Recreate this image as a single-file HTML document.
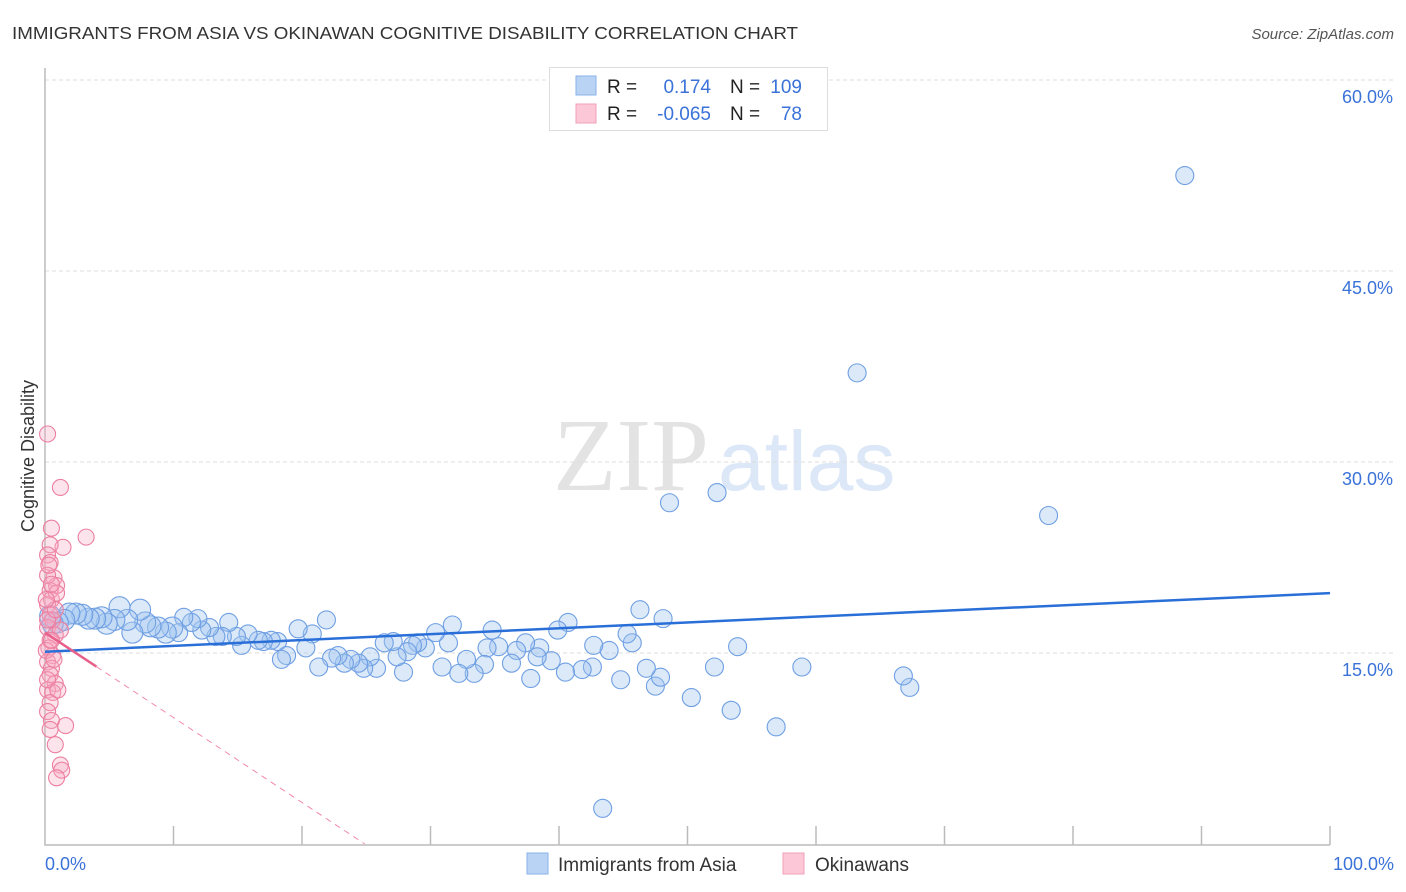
<!DOCTYPE html>
<html><head><meta charset="utf-8"><style>
body{margin:0;background:#fff;font-family:"Liberation Sans",sans-serif;}
svg{display:block}
</style></head><body>
<svg id="chart" width="1406" height="892">
<text x="12" y="39" font-size="17.5" fill="#333" textLength="786" lengthAdjust="spacingAndGlyphs">IMMIGRANTS FROM ASIA VS OKINAWAN COGNITIVE DISABILITY CORRELATION CHART</text>
<text x="1394" y="39" font-size="15" fill="#555" font-style="italic" text-anchor="end">Source: ZipAtlas.com</text>
<text x="553" y="490" font-size="104" fill="#e3e3e3" font-family="Liberation Serif,serif">ZIP</text>
<text x="718" y="490" font-size="84" fill="#dce8f8">atlas</text>
<text transform="translate(34,456) rotate(-90)" font-size="18" fill="#333" text-anchor="middle">Cognitive Disability</text>
<g id="grid"></g><g id="ticks"></g><g id="pts"></g><g id="trends"></g>
<g>
<rect x="549.5" y="67.5" width="278" height="63" fill="#fff" stroke="#ddd"/>
<rect x="576" y="76" width="20" height="19" fill="#b9d3f5" stroke="#8ab2ea"/>
<rect x="576" y="104" width="20" height="19" fill="#fcc7d6" stroke="#f2a0b8"/>
<text x="607" y="93" font-size="19" fill="#222">R =</text><text x="711" y="93" font-size="19" fill="#3a72d8" text-anchor="end">0.174</text>
<text x="730" y="93" font-size="19" fill="#222">N =</text><text x="802" y="93" font-size="19" fill="#3a72d8" text-anchor="end">109</text>
<text x="607" y="120" font-size="19" fill="#222">R =</text><text x="711" y="120" font-size="19" fill="#3a72d8" text-anchor="end">-0.065</text>
<text x="730" y="120" font-size="19" fill="#222">N =</text><text x="802" y="120" font-size="19" fill="#3a72d8" text-anchor="end">78</text>
</g>
<g>
<rect x="527" y="853" width="21" height="21" fill="#b9d3f5" stroke="#8ab2ea"/>
<text x="558" y="871" font-size="19" fill="#333">Immigrants from Asia</text>
<rect x="783" y="853" width="21" height="21" fill="#fcc7d6" stroke="#f2a0b8"/>
<text x="815" y="871" font-size="19" fill="#333">Okinawans</text>
</g>
<text x="45" y="870" font-size="18" fill="#3a72d8">0.0%</text>
<text x="1394" y="870" font-size="18" fill="#3a72d8" text-anchor="end">100.0%</text>
</svg>
<script>
const yTicks=[15,30,45,60];
const yTickLabels=["15.0%","30.0%","45.0%","60.0%"];
const asiaX=[88.7,63.2,52.3,48.6,78.1,43.4,56.9,53.4,50.3,67.3,66.8,58.9,52.1,53.9,46.3,48.1,40.7,39.9,45.7,45.3,43.9,42.7,44.8,47.5,47.9,46.8,42.6,41.8,40.5,39.4,38.5,37.8,38.3,37.4,36.7,36.3,34.8,35.3,34.4,34.2,33.4,32.8,32.2,31.7,31.4,30.9,30.4,29.6,29.0,28.6,28.2,27.9,27.4,27.1,26.4,25.8,25.3,24.8,24.4,23.8,23.3,22.8,22.3,21.9,21.3,20.8,20.3,19.7,18.8,18.4,18.1,17.6,17.0,16.6,15.8,15.3,14.9,14.3,13.8,13.3,12.8,12.2,11.9,11.4,10.8,10.4,9.9,9.4,8.8,8.2,7.8,7.4,6.8,6.4,5.8,5.4,4.8,4.4,3.9,3.4,2.9,2.4,1.9,1.5,1.0,0.6,0.4];
const asiaY=[52.5,37.0,27.6,26.8,25.8,2.8,9.2,10.5,11.5,12.3,13.2,13.9,13.9,15.5,18.4,17.7,17.4,16.8,15.8,16.5,15.2,15.6,12.9,12.4,13.1,13.8,13.9,13.7,13.5,14.4,15.4,13.0,14.7,15.8,15.2,14.2,16.8,15.5,15.4,14.1,13.4,14.5,13.4,17.2,15.8,13.9,16.6,15.4,15.8,15.6,15.1,13.5,14.7,15.9,15.8,13.8,14.7,13.8,14.2,14.5,14.2,14.8,14.6,17.6,13.9,16.5,15.4,16.9,14.8,14.5,15.9,16.0,15.9,16.0,16.5,15.6,16.3,17.4,16.3,16.3,17.0,16.8,17.7,17.4,17.8,16.6,17.0,16.6,17.0,17.1,17.4,18.4,16.6,17.6,18.6,17.6,17.3,17.8,17.7,17.7,18.0,18.1,18.1,17.6,17.4,17.3,17.9];
const okiX=[0.2,1.2,3.2,1.4,0.5,0.4,0.2,0.4,0.7,0.9,0.4,0.5,0.9,0.2,0.4,0.6,0.2,0.8,0.4,0.3,0.6,0.2,0.5,0.4,0.8,0.2,0.6,0.4,0.2,0.5,1.6,0.4,0.8,1.2,1.3,0.9,0.2,0.2,0.1,0.2,1.0,0.5,0.8,1.2,0.1,0.3,0.5,0.7];
const okiY=[32.2,28.0,24.1,23.3,24.8,23.5,22.7,22.1,20.9,20.3,19.9,19.2,19.7,18.8,18.0,17.6,17.0,16.4,16.0,15.4,14.8,14.3,13.8,13.3,12.6,12.1,11.9,11.1,10.4,9.7,9.3,9.0,7.8,6.2,5.8,5.2,21.1,17.6,15.2,12.9,12.1,20.4,18.4,16.8,19.2,21.9,16.0,14.5];
const asiaTrend=[15.1,19.7];
const okiTrend=[16.6,-0.667];
const NS="http://www.w3.org/2000/svg";
const X=v=>45+v*12.85, Y=v=>844-v*12.733;
function mk(tag,attrs,parent){const e=document.createElementNS(NS,tag);for(const k in attrs)e.setAttribute(k,attrs[k]);document.getElementById(parent).appendChild(e);return e;}
yTicks.forEach((t,i)=>{
 const l=mk('line',{x1:45,x2:1394,y1:Y(t),y2:Y(t),stroke:'#ddd','stroke-dasharray':'4,3'},'grid');
 
 
 const tx=mk('text',{x:1393,y:Y(t)+23,'font-size':18,fill:'#3a72d8','text-anchor':'end'},'grid');
 tx.textContent=yTickLabels[i];
 
 
});
const ax=mk('path',{d:'M45,68V845H1330',stroke:'#bbb',fill:'none','stroke-width':1.5},'ticks');


for(let k=1;k<=10;k++){const t=mk('line',{x1:X(k*10),x2:X(k*10),y1:826,y2:845,stroke:'#bbb','stroke-width':1.5},'ticks');
 
 }
asiaX.forEach((x,i)=>{const c=mk('circle',{cx:X(x),cy:Y(asiaY[i]),r:x<10?10.5:9,fill:'rgba(160,196,240,0.38)',stroke:'#6f9fe3','stroke-width':1.1},'pts');
 
 });
okiX.forEach((x,i)=>{const c=mk('circle',{cx:X(x),cy:Y(okiY[i]),r:8,fill:'rgba(248,170,195,0.32)',stroke:'#ec7fa0','stroke-width':1.1},'pts');
 
 });
const bt=mk('line',{x1:X(0),y1:Y(asiaTrend[0]),x2:X(100),y2:Y(asiaTrend[1]),stroke:'#2a6fd8','stroke-width':2.5},'trends');


const xe=-okiTrend[0]/okiTrend[1];
const pd=mk('line',{x1:X(4),y1:Y(okiTrend[0]+okiTrend[1]*4),x2:X(xe),y2:Y(0),stroke:'#f08aa8','stroke-width':1,'stroke-dasharray':'6,5'},'trends');


const ps=mk('line',{x1:X(0),y1:Y(okiTrend[0]),x2:X(4),y2:Y(okiTrend[0]+okiTrend[1]*4),stroke:'#e8608a','stroke-width':2.5},'trends');


</script>
</body></html>
